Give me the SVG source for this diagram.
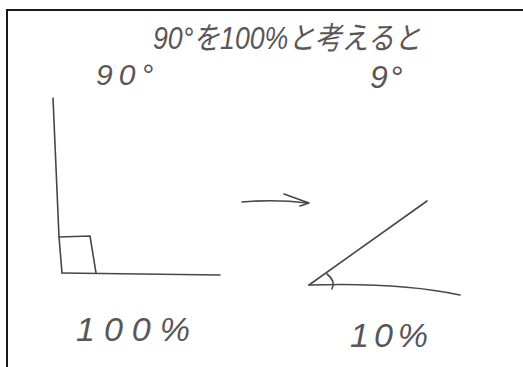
<svg xmlns="http://www.w3.org/2000/svg" width="523" height="367" viewBox="0 0 523 367">
<style>
.ink{fill:none;stroke:#4a4646;stroke-width:1.6;stroke-linecap:round;stroke-linejoin:round}
.txt{fill:#5a5656;font-family:"Liberation Sans","Noto Sans CJK JP",sans-serif;font-style:italic;font-weight:normal}
</style>
<rect width="523" height="367" fill="#ffffff"/>
<path d="M7,367 V10 H523" fill="none" stroke="#1a1a1a" stroke-width="2"/>
<g id="title"><text class="txt" x="153" y="49" font-size="31" textLength="268" lengthAdjust="spacingAndGlyphs">90°を100%と考えると</text></g>
<g id="label-90"><text class="txt" x="96" y="85" font-size="30" letter-spacing="6">90°</text></g>
<g id="label-9"><text class="txt" x="370" y="88" font-size="32" letter-spacing="2">9°</text></g>
<g id="right-angle">
<path class="ink" d="M53,98 L59,237 L62,273"/>
<path class="ink" d="M62,273 L220,275"/>
<path class="ink" d="M59,237 L90,236 L96,273"/>
</g>
<g id="small-angle">
<path class="ink" d="M309,285 L427,201"/>
<path class="ink" d="M309,285 Q400,282 460,295"/>
<path class="ink" d="M327,274 Q336,281 332,289"/>
</g>
<g id="connectors">
<path class="ink" d="M242,202 Q275,199 308,203"/>
<path class="ink" d="M284,194 L309,203 L300,206"/>
</g>
<g id="label-100"><text class="txt" x="76" y="341" font-size="34" letter-spacing="9">100%</text></g>
<g id="label-10"><text class="txt" x="350" y="347" font-size="34" letter-spacing="5">10%</text></g>
</svg>
